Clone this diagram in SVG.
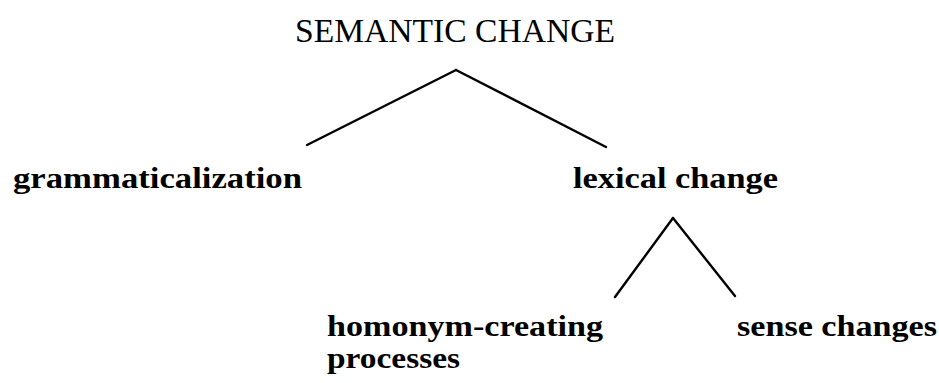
<svg xmlns="http://www.w3.org/2000/svg" width="939" height="383" viewBox="0 0 939 383">
  <style>
    .root { font-family: "Liberation Serif", "Times New Roman", serif; font-size: 33px; fill: #000; }
    .leaf { font-family: "Liberation Serif", "Times New Roman", serif; font-size: 30px; font-weight: bold; fill: #000; }
    .branch { stroke: #000; stroke-width: 2.4; stroke-linecap: round; fill: none; }
  </style>
  <rect width="939" height="383" fill="#fff"/>

  <g id="connectors">
    <line class="branch" x1="456" y1="70" x2="307" y2="145"/>
    <line class="branch" x1="456" y1="70" x2="606" y2="147"/>
    <line class="branch" x1="673" y1="218" x2="615" y2="297"/>
    <line class="branch" x1="673" y1="218" x2="735" y2="296"/>
  </g>

  <g id="semantic-change">
    <text class="root" x="295" y="42" textLength="320" lengthAdjust="spacingAndGlyphs">SEMANTIC CHANGE</text>
  </g>
  <g id="grammaticalization">
    <text class="leaf" x="13" y="188" textLength="289" lengthAdjust="spacingAndGlyphs">grammaticalization</text>
  </g>
  <g id="lexical-change">
    <text class="leaf" x="573" y="188" textLength="205" lengthAdjust="spacingAndGlyphs">lexical change</text>
  </g>
  <g id="homonym-creating-processes">
    <text class="leaf" x="327" y="336" textLength="276" lengthAdjust="spacingAndGlyphs">homonym-creating</text>
    <text class="leaf" x="327" y="368" textLength="133" lengthAdjust="spacingAndGlyphs">processes</text>
  </g>
  <g id="sense-changes">
    <text class="leaf" x="737" y="336" textLength="200" lengthAdjust="spacingAndGlyphs">sense changes</text>
  </g>
</svg>
